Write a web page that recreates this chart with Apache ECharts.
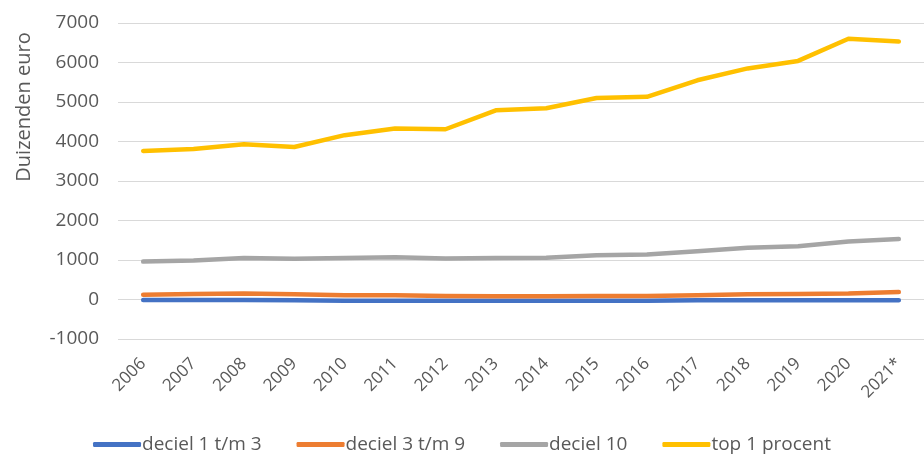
<!DOCTYPE html>
<html>
<head>
<meta charset="utf-8">
<script src="https://cdn.jsdelivr.net/npm/echarts@6/dist/echarts.min.js"></script>
<style>
  html, body { margin: 0; padding: 0; background: #fff; }
  #chart { width: 924px; height: 459px; }
</style>
</head>
<body>
<div id="chart"></div>
<script>
// Years on the x axis
const years = ['2006', '2007', '2008', '2009', '2010', '2011', '2012', '2013',
  '2014', '2015', '2016', '2017', '2018', '2019', '2020', '2021*'];

// Values in thousands of euro
const deciel1t3 = [-10, -10, -10, -20, -30, -30, -30, -30, -30, -30, -30, -20, -20, -20, -20, -20];
const deciel3t9 = [120, 140, 150, 130, 110, 110, 90, 80, 80, 90, 90, 110, 130, 140, 150, 190];
const deciel10 = [960, 990, 1050, 1030, 1050, 1070, 1040, 1050, 1060, 1120, 1140, 1220, 1310, 1350, 1470, 1530];
const top1 = [3760, 3810, 3930, 3860, 4160, 4330, 4310, 4790, 4840, 5100, 5130, 5550, 5850, 6040, 6600, 6530];

const seriesNames = ['deciel 1 t/m 3', 'deciel 3 t/m 9', 'deciel 10', 'top 1 procent'];
const seriesColors = ['#4472C4', '#ED7D31', '#A5A5A5', '#FFC000'];
const seriesData = [deciel1t3, deciel3t9, deciel10, top1];

const TEXT = '#595959';
const FONT = '"Open Sans", "Noto Sans", sans-serif';

const chart = echarts.init(document.getElementById('chart'));

chart.setOption({
  backgroundColor: '#fff',
  animation: false,
  textStyle: { fontFamily: FONT },
  grid: { left: 118, right: 0, top: 23, bottom: 120 },
  legend: {
    data: seriesNames,
    bottom: 0,
    left: 'center',
    itemWidth: 48,
    itemHeight: 5,
    itemGap: 35,
    icon: 'roundRect',
    textStyle: { color: TEXT, fontSize: 19, fontFamily: FONT, padding: [0, 0, 0, -4] }
  },
  graphic: [{
    type: 'text',
    x: 24,
    y: 107,
    rotation: Math.PI / 2,
    style: {
      text: 'Duizenden euro',
      fill: TEXT,
      font: '20px ' + FONT,
      align: 'center',
      verticalAlign: 'middle'
    }
  }],
  xAxis: {
    type: 'category',
    data: years,
    boundaryGap: true,
    axisLine: { show: false },
    axisTick: { show: false },
    axisLabel: { color: TEXT, fontSize: 17, rotate: 45, margin: 22, interval: 0 }
  },
  yAxis: {
    type: 'value',
    min: -1000,
    max: 7000,
    interval: 1000,
    axisLine: { show: false },
    axisTick: { show: false },
    splitLine: { lineStyle: { color: '#D9D9D9', width: 1.2 } },
    axisLabel: { color: TEXT, fontSize: 19, margin: 19, formatter: v => String(v) }
  },
  series: seriesData.map((d, i) => ({
    name: seriesNames[i],
    type: 'line',
    data: d,
    symbol: 'none',
    color: seriesColors[i],
    lineStyle: { color: seriesColors[i], width: 4.5, cap: 'round', join: 'round' }
  }))
});
</script>
</body>
</html>
